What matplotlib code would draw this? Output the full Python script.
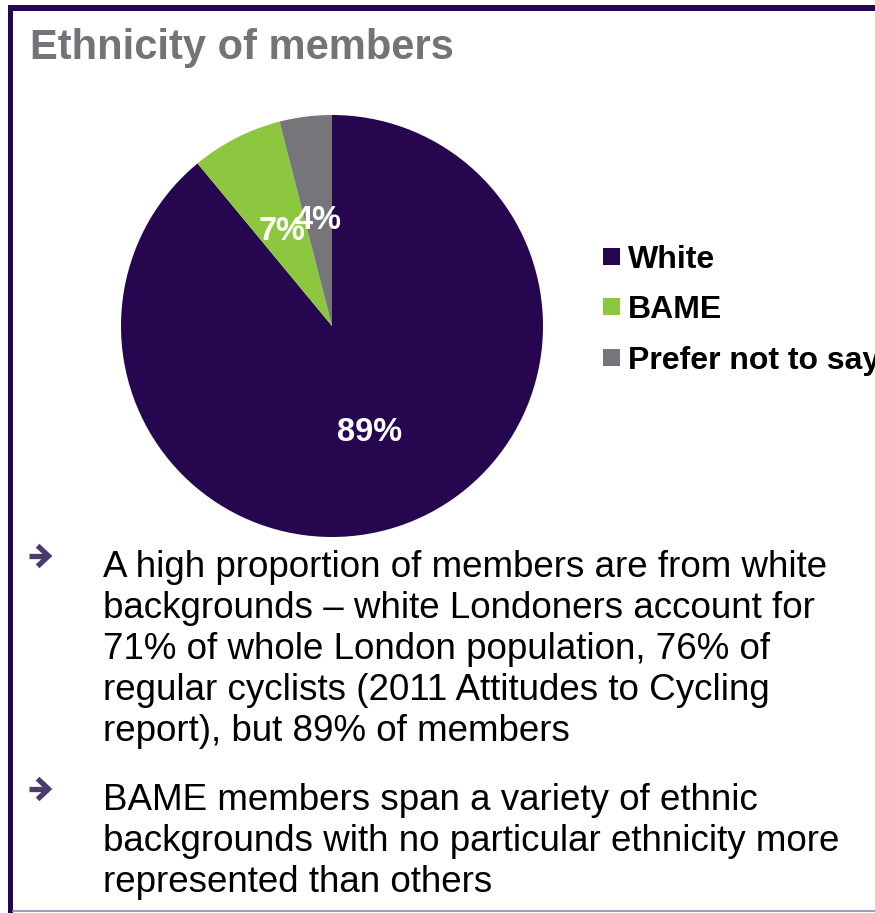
import matplotlib.pyplot as plt
from matplotlib.patches import Rectangle
from matplotlib.lines import Line2D

plt.rcParams['font.family'] = ['Liberation Sans', 'DejaVu Sans']

# 数据
labels = ['White', 'BAME', 'Prefer not to say']
shares = [89, 7, 4]
colors = ['#26074f', '#8dc63f', '#76767a']

title = 'Ethnicity of members'
bullets = [
    ['A high proportion of members are from white',
     'backgrounds \u2013 white Londoners account for',
     '71% of whole London population, 76% of',
     'regular cyclists (2011 Attitudes to Cycling',
     'report), but 89% of members'],
    ['BAME members span a variety of ethnic',
     'backgrounds with no particular ethnicity more',
     'represented than others'],
]

W, H = 875, 913
fig = plt.figure(figsize=(W / 100, H / 100), dpi=100)


def fx(px):
    return px / W


def fy(py):
    return 1 - py / H


# 边框
purple = '#26074f'
fig.add_artist(Rectangle((fx(8), fy(11)), 1, 6 / H, transform=fig.transFigure,
                         color=purple, lw=0))
fig.add_artist(Rectangle((fx(8), 0), 5 / W, fy(5), transform=fig.transFigure,
                         color=purple, lw=0))
fig.add_artist(Line2D([fx(13), 1], [fy(911), fy(911)], transform=fig.transFigure,
                      color='#9385b8', lw=1.2))

# 标题
fig.text(fx(30), fy(59), title, fontsize=30, fontweight='bold',
         color='#747478', va='baseline')

# 饼图
cx, cy, r = 332, 326, 211
ax = fig.add_axes([fx(cx - r), fy(cy + r), 2 * r / W, 2 * r / H])
wedges, _, autotexts = ax.pie(shares, colors=colors, startangle=90,
                              counterclock=False, autopct='%.0f%%',
                              pctdistance=0.52,
                              wedgeprops=dict(linewidth=0),
                              textprops=dict(color='white', fontsize=23.5,
                                             fontweight='bold'))
for t in autotexts:
    t.set_verticalalignment('center_baseline')
ax.set_xlim(-1, 1)
ax.set_ylim(-1, 1)
ax.set_aspect('equal')
ax.axis('off')

# 图例
for i, (lab, col) in enumerate(zip(labels, colors)):
    top = 248 + i * 50.5
    fig.add_artist(Rectangle((fx(603), fy(top + 17)), 17 / W, 17 / H,
                             transform=fig.transFigure, color=col, lw=0))
    fig.text(fx(628), fy(top + 20), lab, fontsize=23, fontweight='bold',
             color='black', va='baseline')

# 要点文字
arrow_color = '#4b3b6d'
starts = [577, 810]
for lines, base in zip(bullets, starts):
    ay = base - 21
    fig.add_artist(Line2D([fx(29), fx(48)], [fy(ay), fy(ay)],
                          transform=fig.transFigure, color=arrow_color,
                          lw=3.8, solid_capstyle='butt'))
    fig.add_artist(Line2D([fx(39.5), fx(48.5), fx(39.5)],
                          [fy(ay - 8.5), fy(ay), fy(ay + 8.5)],
                          transform=fig.transFigure, color=arrow_color,
                          lw=3.8, solid_joinstyle='miter'))
    for k, line in enumerate(lines):
        fig.text(fx(103), fy(base + k * 41), line, fontsize=26.5,
                 color='black', va='baseline')

plt.savefig('out.png', dpi=100)
